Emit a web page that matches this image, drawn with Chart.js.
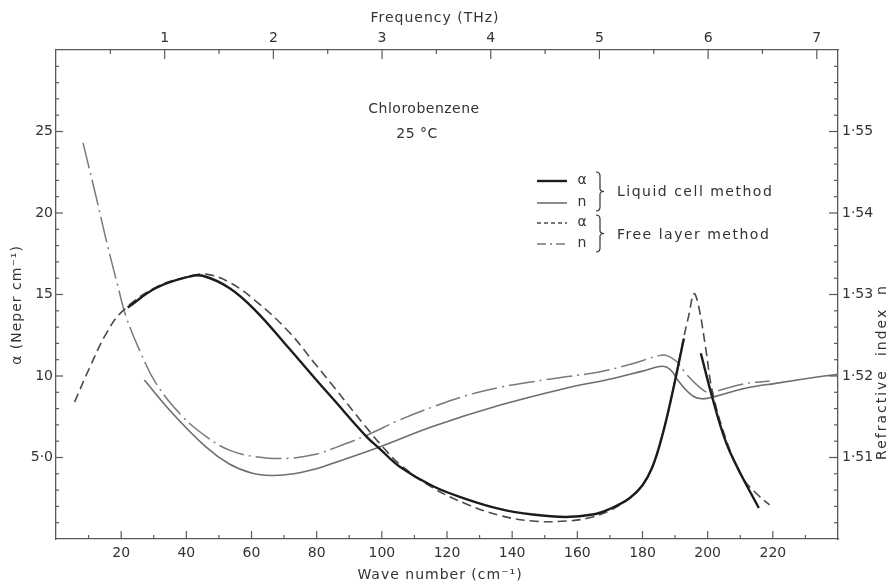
<!DOCTYPE html>
<html>
<head>
<meta charset="utf-8">
<script src="https://cdn.jsdelivr.net/npm/chart.js@4.4.1/dist/chart.umd.min.js"></script>
<style>
  html, body { margin: 0; padding: 0; background: #ffffff; }
  canvas { display: block; }
</style>
</head>
<body>
<canvas id="chart" width="894" height="585" style="width:894px;height:585px"></canvas>
<script>
// Chlorobenzene, 25 °C — absorption coefficient and refractive index vs wave number

// Liquid cell method: absorption coefficient (Neper cm-1); null marks the unmeasured peak top
const liquidAlphaWave = [22, 30.7, 40.9, 45, 53.2, 61.3, 71.5, 79.7, 85, 95.2, 99.3, 105.4, 115.6, 125.9, 136.1, 146.3, 156.5, 164.7, 170, 176, 180, 183, 186, 189, 192.7, 195, 197.9, 201.4, 205.5, 209.6, 215.7];
const liquidAlpha     = [14.2, 15.4, 16.1, 16.15, 15.4, 14.0, 11.7, 9.8, 8.6, 6.3, 5.55, 4.45, 3.25, 2.45, 1.85, 1.5, 1.35, 1.5, 1.85, 2.5, 3.3, 4.4, 6.3, 8.8, 12.3, null, 11.4, 8.7, 6.0, 4.2, 1.9];

// Liquid cell method: refractive index
const liquidNWave = [27.1, 35.8, 46, 53.2, 60, 66, 73, 79.7, 85, 99.3, 115.6, 136.1, 156.5, 169.8, 180, 186, 188.5, 191.2, 195.3, 198.3, 202.4, 211.6, 220.8, 234.1, 240];
const liquidN     = [1.5195, 1.5154, 1.5113, 1.5092, 1.5081, 1.5078, 1.5080, 1.5086, 1.5093, 1.5113, 1.5138, 1.5164, 1.5185, 1.5196, 1.5206, 1.5212, 1.5208, 1.5193, 1.5176, 1.5172, 1.5175, 1.5185, 1.5191, 1.5199, 1.5202];

// Free layer method: absorption coefficient
const freeAlphaWave = [5.7, 10.3, 15.4, 20.5, 30.7, 40.9, 46, 53.2, 61.3, 71.5, 79.7, 85, 95.2, 100.3, 105.4, 115.6, 125.9, 136.1, 146.3, 156.5, 163.6, 170, 176, 180, 183, 186, 189, 192.7, 194.3, 195.8, 197.3, 199.4, 201.4, 205.5, 210.6, 215.7, 219];
const freeAlpha     = [8.4, 10.5, 12.6, 14.0, 15.45, 16.1, 16.25, 15.75, 14.6, 12.7, 10.7, 9.4, 6.85, 5.65, 4.6, 3.15, 2.15, 1.45, 1.1, 1.1, 1.3, 1.75, 2.5, 3.3, 4.4, 6.3, 8.8, 12.4, 13.8, 15.05, 14.2, 11.7, 9.1, 6.2, 3.8, 2.65, 2.1];

// Free layer method: refractive index
const freeNWave = [8.3, 12.3, 15.4, 19, 21.5, 25.6, 30.7, 38.9, 46, 53.2, 61.3, 71.5, 79.7, 85, 95.2, 105.4, 115.6, 125.9, 136.1, 146.3, 156.5, 166.7, 176, 185.1, 187.5, 190.4, 193.3, 197.3, 200.4, 202.4, 210.6, 219];
const freeN     = [1.5486, 1.5420, 1.5367, 1.5310, 1.5273, 1.5232, 1.5191, 1.5150, 1.5126, 1.5109, 1.5101, 1.5099, 1.5104, 1.5111, 1.5127, 1.5146, 1.5162, 1.5176, 1.5186, 1.5193, 1.5199, 1.5205, 1.5214, 1.5225, 1.5225, 1.5218, 1.5203, 1.5187, 1.5179, 1.5181, 1.5190, 1.5194];

// Axis labels
const waveTickLabels  = [20, 40, 60, 80, 100, 120, 140, 160, 180, 200, 220];
const freqTickLabels  = [1, 2, 3, 4, 5, 6, 7];
const alphaTickValues = [5, 10, 15, 20, 25];
const alphaTickLabels = ['5·0', '10', '15', '20', '25'];
const nTickValues     = [1.51, 1.52, 1.53, 1.54, 1.55];
const nTickLabels     = ['1·51', '1·52', '1·53', '1·54', '1·55'];

const WAVE_PER_THZ = 33.356;   // cm-1 per THz
const WAVE_MAX = 240;

const pts = (xs, ys) => xs.map((x, i) => ({ x: x, y: ys[i] }));

const INK = '#333333';
const AXIS = '#5a5a5a';
const FONT = '"DejaVu Sans", "Liberation Sans", sans-serif';

const datasets = [
  { label: 'α liquid', data: pts(liquidAlphaWave, liquidAlpha), xAxisID: 'x', yAxisID: 'y',
    borderColor: '#1c1c1c', borderWidth: 2.4, borderDash: [] },
  { label: 'n liquid', data: pts(liquidNWave, liquidN), xAxisID: 'x', yAxisID: 'y2',
    borderColor: '#6e6e6e', borderWidth: 1.6, borderDash: [] },
  { label: 'α free', data: pts(freeAlphaWave, freeAlpha), xAxisID: 'x', yAxisID: 'y',
    borderColor: '#4a4a4a', borderWidth: 1.6, borderDash: [9, 5] },
  { label: 'n free', data: pts(freeNWave, freeN), xAxisID: 'x', yAxisID: 'y2',
    borderColor: '#7a7a7a', borderWidth: 1.5, borderDash: [26, 5, 2, 5] }
].map(d => Object.assign({
  pointRadius: 0, fill: false, spanGaps: false, tension: 0.4
}, d));

function hiddenAxis(extra, size, horizontal) {
  return Object.assign({
    type: 'linear',
    grid: { display: false, drawTicks: false },
    border: { display: true, color: AXIS, width: 1.3 },
    ticks: { display: false },
    afterFit: s => { if (horizontal) s.height = size; else s.width = size; }
  }, extra);
}

function line(ctx, x1, y1, x2, y2) {
  ctx.beginPath(); ctx.moveTo(x1, y1); ctx.lineTo(x2, y2); ctx.stroke();
}

function brace(ctx, x, top, bottom) {
  const mid = (top + bottom) / 2;
  ctx.beginPath();
  ctx.moveTo(x, top);
  ctx.quadraticCurveTo(x + 4, top, x + 4, top + 4);
  ctx.lineTo(x + 4, mid - 3);
  ctx.quadraticCurveTo(x + 4, mid, x + 8, mid);
  ctx.quadraticCurveTo(x + 4, mid, x + 4, mid + 3);
  ctx.lineTo(x + 4, bottom - 4);
  ctx.quadraticCurveTo(x + 4, bottom, x, bottom);
  ctx.stroke();
}

const decorations = {
  id: 'decorations',
  afterDraw(chart) {
    const { ctx, chartArea: a, scales } = chart;
    const sx = scales.x, sf = scales.x2, sy = scales.y, sn = scales.y2;
    ctx.save();

    // inward tick marks
    ctx.strokeStyle = AXIS;
    ctx.lineWidth = 1.2;
    for (let v = 10; v < WAVE_MAX; v += 10) {
      const px = sx.getPixelForValue(v);
      line(ctx, px, a.bottom, px, a.bottom - (v % 20 === 0 ? 8 : 4));
    }
    for (let v = 0.5; v < WAVE_MAX / WAVE_PER_THZ; v += 0.5) {
      const px = sf.getPixelForValue(v);
      line(ctx, px, a.top, px, a.top + (Number.isInteger(v) ? 9 : 4));
    }
    for (let v = 1; v < 30; v += 1) {
      const py = sy.getPixelForValue(v);
      line(ctx, a.left, py, a.left + (v % 5 === 0 ? 7 : 3), py);
    }
    for (let k = 1; k < 30; k += 1) {
      const v = 1.5 + k * 0.002;
      const py = sn.getPixelForValue(v);
      line(ctx, a.right, py, a.right - (k % 5 === 0 ? 9 : 4), py);
    }

    // tick labels
    ctx.fillStyle = INK;
    ctx.font = '14px ' + FONT;
    ctx.textBaseline = 'middle';
    ctx.textAlign = 'center';
    waveTickLabels.forEach(v => ctx.fillText(String(v), sx.getPixelForValue(v), a.bottom + 14));
    freqTickLabels.forEach(v => ctx.fillText(String(v), sf.getPixelForValue(v), a.top - 12));
    ctx.textAlign = 'right';
    alphaTickValues.forEach((v, i) => ctx.fillText(alphaTickLabels[i], a.left - 3, sy.getPixelForValue(v)));
    ctx.textAlign = 'left';
    nTickValues.forEach((v, i) => ctx.fillText(nTickLabels[i], a.right + 4, sn.getPixelForValue(v)));

    // axis titles
    ctx.letterSpacing = '1px';
    ctx.textAlign = 'center';
    ctx.fillText('Frequency (THz)', 435, 18);
    ctx.fillText('Wave number (cm\u207B\u00B9)', 440, 575);
    ctx.save();
    ctx.translate(17, 305);
    ctx.rotate(-Math.PI / 2);
    ctx.fillText('\u03B1 (Neper cm\u207B\u00B9)', 0, 0);
    ctx.restore();
    ctx.save();
    ctx.translate(882, 372);
    ctx.rotate(-Math.PI / 2);
    ctx.letterSpacing = '2px';
    ctx.fillText('Refractive  index  n', 0, 0);
    ctx.restore();

    // sample label
    ctx.letterSpacing = '0.5px';
    ctx.fillText('Chlorobenzene', 424, 109);
    ctx.fillText('25 \u00B0C', 417, 134);

    // key
    const d = chart.data.datasets;
    const rows = [181, 203, 223, 244];
    rows.forEach((y, i) => {
      ctx.strokeStyle = d[i].borderColor;
      ctx.lineWidth = d[i].borderWidth;
      ctx.setLineDash(i === 2 ? [4, 3] : i === 3 ? [9, 4, 2, 4] : []);
      line(ctx, 537, y, 567, y);
    });
    ctx.setLineDash([]);
    ctx.letterSpacing = '0px';
    ctx.textAlign = 'center';
    ['\u03B1', 'n', '\u03B1', 'n'].forEach((t, i) => ctx.fillText(t, 582, rows[i] - 1));
    ctx.strokeStyle = INK;
    ctx.lineWidth = 1.2;
    brace(ctx, 596, 172, 211);
    brace(ctx, 596, 215, 252);
    ctx.textAlign = 'left';
    ctx.letterSpacing = '1.5px';
    ctx.fillText('Liquid cell method', 617, 192);
    ctx.fillText('Free layer method', 617, 235);

    ctx.restore();
  }
};

new Chart(document.getElementById('chart'), {
  type: 'line',
  data: { datasets: datasets },
  options: {
    responsive: false,
    animation: false,
    devicePixelRatio: 1,
    events: [],
    layout: { padding: 0 },
    plugins: { legend: { display: false }, tooltip: { enabled: false } },
    scales: {
      x:  hiddenAxis({ position: 'bottom', min: 0, max: WAVE_MAX }, 46, true),
      x2: hiddenAxis({ position: 'top', min: 0, max: WAVE_MAX / WAVE_PER_THZ }, 50, true),
      y:  hiddenAxis({ position: 'left', min: 0, max: 30 }, 56, false),
      y2: hiddenAxis({ position: 'right', min: 1.50, max: 1.56 }, 56, false)
    }
  },
  plugins: [decorations]
});
</script>
</body>
</html>
